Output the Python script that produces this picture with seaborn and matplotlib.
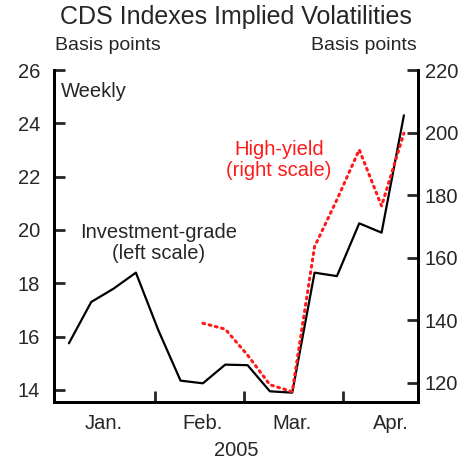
# import libraries
import pandas as pd
import matplotlib.pyplot as plt
import matplotlib.dates as mdates
import seaborn as sns

# weekly observations, 2005
weeks = pd.date_range("2005-01-05", periods=16, freq="7D")
investment_grade = [15.75, 17.3, 17.8, 18.4, 16.25, 14.35, 14.25, 14.95, 14.93,
                    13.95, 13.9, 18.4, 18.27, 20.25, 19.9, 24.3]
high_yield = [139.0, 137.1, 128.8, 119.3, 117.1, 163.5, 178.5, 194.5, 176.5, 199.8]
hy_weeks = weeks[6:]

ig_data = pd.DataFrame({"Date": weeks, "Vol": investment_grade})
hy_data = pd.DataFrame({"Date": hy_weeks, "Vol": high_yield})

# Visualize settings
sns.set_theme(style="white")
plt.rcParams["font.family"] = ["Liberation Sans", "DejaVu Sans"]

fig = plt.figure(figsize=(4.72, 4.63), dpi=100)
ax = fig.add_axes([0.1144, 0.1318, 0.7712, 0.717])
ax2 = ax.twinx()

sns.lineplot(data=ig_data, x="Date", y="Vol", ax=ax, color="black", linewidth=1.6)
sns.lineplot(data=hy_data, x="Date", y="Vol", ax=ax2, color="#ff1a1a", linewidth=2.2,
             linestyle=(0, (0.6, 1.5)), dash_capstyle="round")

ax.set_ylim(13.55, 26)
ax2.set_ylim(113.8, 220)
ax.set_xlim(pd.Timestamp("2004-12-31 08:00"), pd.Timestamp("2005-04-24 10:00"))

ax.set_yticks(range(14, 27, 2))
ax2.set_yticks(range(120, 221, 20))

# month boundaries as ticks, labels in the middle of the month
ax.xaxis.set_major_locator(mdates.MonthLocator(bymonth=[2, 3, 4]))
ax.xaxis.set_major_formatter(plt.NullFormatter())
ax.xaxis.set_minor_locator(mdates.MonthLocator(bymonthday=16))
ax.xaxis.set_minor_formatter(mdates.DateFormatter("%b."))

for a in (ax, ax2):
    a.set_xlabel("")
    a.set_ylabel("")
    a.spines["top"].set_visible(False)
    for s in ("left", "right", "bottom"):
        a.spines[s].set_linewidth(2)
        a.spines[s].set_color("black")

ax.tick_params(axis="y", direction="in", length=8, width=2, labelsize=14.5, pad=10, left=True)
ax2.tick_params(axis="y", direction="in", length=8, width=2, labelsize=14.5, pad=5, right=True)
ax.tick_params(axis="x", which="major", direction="in", length=8, width=2, bottom=True)
ax.tick_params(axis="x", which="minor", length=0, labelsize=14.5, pad=9)

fig.text(0.5, 0.963, "CDS Indexes Implied Volatilities", ha="center", va="center", fontsize=18)
fig.text(0.116, 0.901, "Basis points", ha="left", va="center", fontsize=14)
fig.text(0.884, 0.901, "Basis points", ha="right", va="center", fontsize=14)
fig.text(0.5, 0.028, "2005", ha="center", va="center", fontsize=14.5)

ax.text(0.02, 0.965, "Weekly", transform=ax.transAxes, ha="left", va="top", fontsize=14.5)
ax.text(0.288, 0.479, "Investment-grade\n(left scale)", transform=ax.transAxes,
        ha="center", va="center", fontsize=14.5, linespacing=1.1)
ax.text(0.618, 0.729, "High-yield\n(right scale)", transform=ax.transAxes,
        ha="center", va="center", fontsize=14.5, color="#ff1a1a", linespacing=1.1)

plt.savefig("out.png", dpi=100)
